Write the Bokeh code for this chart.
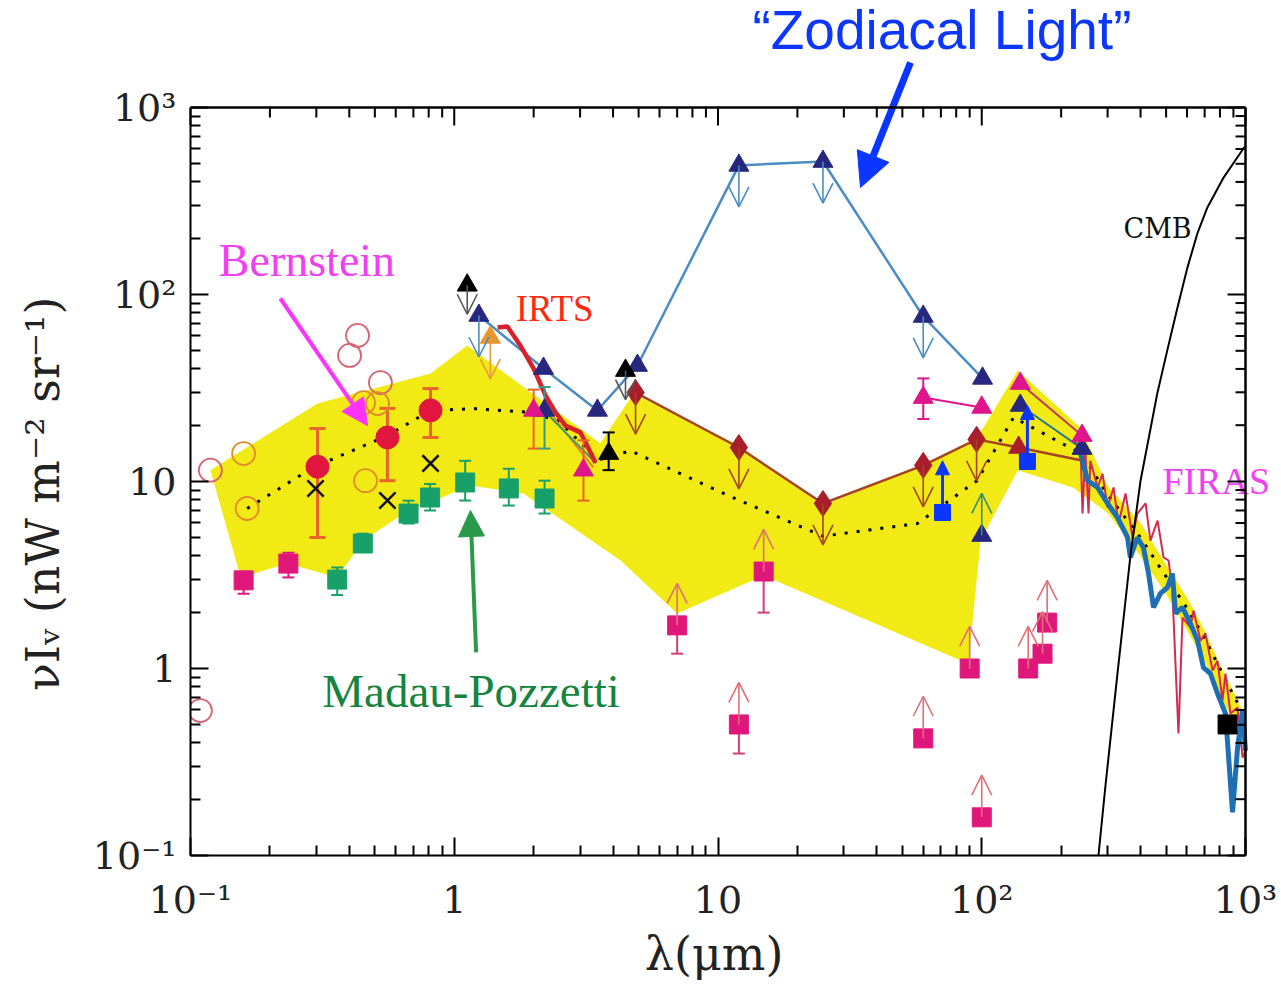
from bokeh.plotting import figure
from bokeh.models import (ColumnDataSource, Arrow, OpenHead, NormalHead, Label,
                          FixedTicker, Range1d)
from bokeh.embed import file_html
from bokeh.resources import INLINE

# ---------------- data (wavelength in micron, nu I_nu in nW m^-2 sr^-1) ----------------
# allowed range of the background (shaded band)
band_up_wl = [0.119, 0.303, 0.813, 1.12, 3.58, 4.78, 12, 25, 60, 95, 137, 237, 300, 400, 500, 600, 700, 800, 900, 1000]
band_up_val = [11.5, 26.1, 37.8, 53.4, 16.0, 29.5, 15.6, 7.44, 12.2, 16.6, 39.2, 19.4, 9.5, 6.0, 3.6, 2.4, 1.6, 1.05, 0.75, 0.55]
band_lo_wl = [1000, 900, 800, 700, 600, 500, 400, 300, 222, 137, 99, 89, 14.9, 7.0, 4.27, 1.83, 1.15, 0.643, 0.453, 0.36, 0.233, 0.155]
band_lo_val = [0.38, 0.52, 0.72, 1.1, 1.6, 2.5, 4.0, 6.8, 9.29, 11.5, 4.83, 1.06, 3.14, 1.97, 3.78, 8.63, 9.52, 6.74, 4.83, 3.07, 3.64, 3.07]

# model curve (dotted)
model_wl = [0.164, 0.292, 0.558, 0.813, 1.2, 1.95, 2.5, 3.5, 4.66, 11.4, 25, 57, 96, 132, 240, 300, 400, 500, 600, 700, 800, 900, 1000]
model_val = [7.17, 11.9, 17.6, 24.0, 24.5, 23.4, 21, 13, 14.6, 8.2, 5.1, 5.96, 10.1, 22, 14, 8.5, 5.0, 3.1, 2.1, 1.45, 1.0, 0.72, 0.55]

# open circles
oc_pink_wl = [0.109, 0.119, 0.401, 0.430, 0.525]
oc_pink_val = [0.596, 11.5, 47.2, 60.4, 33.8]
oc_orange_wl = [0.159, 0.164, 0.453, 0.461, 0.512]
oc_orange_val = [14.1, 7.17, 26.4, 10.1, 26.1]

# Bernstein points
bern_wl = [0.303, 0.558, 0.813]
bern_val = [12.0, 17.2, 24.0]
bern_lo = [5.02, 10.1, 17.2]
bern_hi = [19.2, 24.6, 31.4]

# crosses
cross_wl = [0.298, 0.558, 0.813]
cross_val = [9.18, 7.91, 12.5]

# UV galaxy counts
uv_wl = [0.159, 0.235]
uv_val = [2.96, 3.64]
uv_lo = [2.51, 3.07]
uv_hi = [3.26, 4.16]

# Madau-Pozzetti galaxy counts
mp_wl = [0.36, 0.45, 0.671, 0.81, 1.10, 1.61, 2.20]
mp_val = [2.99, 4.66, 6.74, 8.21, 9.88, 9.18, 8.11]
mp_lo = [2.47, 4.2, 5.96, 7.0, 7.91, 7.44, 6.74]
mp_hi = [3.47, 5.26, 7.9, 9.7, 12.9, 11.7, 10.1]

# IRTS spectrum
irts_wl = [1.46, 1.59, 1.78, 2.0, 2.22, 2.42, 2.64, 3.01, 3.23, 3.43]
irts_val = [66.6, 67.5, 53.4, 40.2, 28.8, 23.4, 19.9, 18.3, 15.0, 12.6]

# near-IR measurements
nir_tri_wl = [2.0, 3.09]
nir_tri_val = [24.0, 11.5]
nir_tri_lo = [15.0, 7.9]
nir_tri_hi = [31.0, 16.6]
nir_nav_wl = [2.2]
nir_nav_val = [24.0]
nir_nav_lo = [15.0]
nir_nav_hi = [32.0]
nir_orange_wl = [2.38, 3.37]
nir_orange_val = [22.0, 11.9]
nir_green_wl = [2.25, 3.45]
nir_green_val = [23.0, 12.5]

# upper limits (connected triangles)
ul_wl = [1.24, 2.18, 3.49, 4.95, 12, 25, 60, 100.7]
ul_val = [77.2, 40.2, 24.0, 41.7, 490, 514, 76.3, 35.6]
ul_arrow_wl = [1.24, 12, 25, 60]
ul_arrow_val = [77.2, 490, 514, 76.3]

# upper limits (diamonds)
dm_wl = [4.87, 12, 25, 60, 95.6]
dm_val = [29.9, 15.2, 7.63, 12.2, 16.8]
dm_line_wl = [4.87, 12, 25, 60, 95.6, 138, 237]
dm_line_val = [29.9, 15.2, 7.63, 12.2, 16.8, 15.2, 13.0]

# black triangles
bt_lim_wl = [1.12, 4.46]
bt_lim_val = [112, 39.2]
bt_wl = [3.85]
bt_val = [14.1]
bt_lo = [11.5]
bt_hi = [18.3]

# orange triangle upper limit
ot_wl = [1.37]
ot_val = [58.9]

# far-IR detections
fir_wl = [60, 100]
fir_val = [28.1, 24.9]
fir_err_wl = [60]
fir_lo = [21.6]
fir_hi = [35.6]
fir2_wl = [140, 240]
fir2_val = [33.4, 17.6]
fir_nav_wl = [140, 240]
fir_nav_val = [25.5, 15.0]
fir_red_wl = [138]
fir_red_val = [15.2]
fir_low_wl = [100]
fir_low_val = [5.14]

# lower limits (source counts)
ll_wl = [7.0, 12.0, 14.9, 60, 90, 100, 150, 170, 177]
ll_val = [1.70, 0.502, 3.30, 0.423, 1.0, 0.16, 1.0, 1.2, 1.76]
ll_err_wl = [7.0, 12.0, 14.9]
ll_err_val = [1.70, 0.502, 3.30]
ll_err_lo = [1.20, 0.351, 1.99]

# resolved fractions (blue squares, lower limits)
bs_wl = [71, 149]
bs_val = [6.83, 12.8]
bs_tip = [12.9, 25.5]

# sub-mm point
sm_wl = [855]
sm_val = [0.502]

# FIRAS spectra
firas_a_wl = [223, 237, 241, 247, 254, 258, 275, 287, 300, 316, 330, 351, 373, 389, 418, 436, 464, 489, 511,
              528, 557, 577, 618, 635, 675, 705, 750, 783, 818, 840, 877, 933, 975, 1000]
firas_a_val = [16.6, 15.2, 6.74, 14.7, 6.74, 12.9, 9.29, 11.0, 7.26, 9.29, 5.96, 8.63, 5.02, 6.74, 7.63, 4.83,
               6.18, 3.93, 3.78, 2.61, 0.449, 1.87, 1.66, 2.04, 1.41, 1.54, 0.975, 1.10, 0.675, 0.94, 0.574,
               0.618, 0.334, 0.364]
firas_b_wl = [237, 252, 275, 300, 327, 357, 366, 389, 410, 429, 448, 476, 506, 528, 543, 577, 618, 658, 693,
              736, 783, 840, 893, 933, 975, 1000]
firas_b_val = [14.1, 10.1, 9.29, 7.63, 6.42, 5.02, 3.93, 5.02, 4.44, 3.22, 2.12, 2.52, 2.71, 3.22, 1.97, 2.12,
               1.74, 1.41, 1.01, 0.94, 0.735, 0.574, 0.170, 0.378, 0.596, 0.364]

# CMB
cmb_wl = [270, 277, 294, 327, 367, 400, 463, 508, 552, 602, 657, 717, 826, 982, 1000]
cmb_val = [0.085, 0.1, 0.231, 0.94, 4.12, 10.1, 29.6, 52, 85, 139, 212, 292, 422, 604, 620]

# axis limits and tick labels
WL_MIN, WL_MAX = 0.1, 1000.0
VAL_MIN, VAL_MAX = 0.1, 1000.0
tick_vals = [0.1, 1, 10, 100, 1000]
tick_text = ["10\u207b\u00b9", "1", "10", "10\u00b2", "10\u00b3"]
minor_vals = [m * 10.0 ** e for e in range(-1, 3) for m in range(2, 10)]

# ---------------- colours ----------------
YELLOW = "#f2ea14"
MAGENTA = "#e0177a"
GREEN = "#17a06a"
CRIMSON = "#e0163f"
NAVY = "#27277f"
STEEL = "#4a8cc4"
BROWN = "#a81e2a"
BROWN_LINE = "#a5441e"
PINK_TRI = "#e0148c"
LIMIT_ARROW = "#e07078"
BRIGHT_BLUE = "#0b36ff"
SERIF = "DejaVu Serif"
NBSP = "\u00a0"

# ---------------- layout ----------------
# pixels per decade of the frame, used to leave room above and to the right of the
# data box for the annotations and to size the ticks of the closing box edges
PX_DEC_X, PX_DEC_Y = 263.75, 187.0
ROOM_RIGHT, ROOM_TOP = 36, 107

p = figure(width=1281, height=984, x_axis_type="log", y_axis_type="log", title=None,
           x_range=Range1d(WL_MIN, WL_MAX * 10 ** (ROOM_RIGHT / PX_DEC_X)),
           y_range=Range1d(VAL_MIN, VAL_MAX * 10 ** (ROOM_TOP / PX_DEC_Y)),
           output_backend="svg", toolbar_location=None,
           min_border_left=190, min_border_right=0, min_border_top=0, min_border_bottom=129)
p.grid.visible = False
p.outline_line_color = None
p.background_fill_color = "white"
p.border_fill_color = "white"

for ax in (p.xaxis[0], p.yaxis[0]):
    ax.ticker = FixedTicker(ticks=tick_vals, minor_ticks=minor_vals)
    ax.bounds = (0.1, 1000)
    ax.axis_line_width = 2
    ax.major_tick_in = 18
    ax.major_tick_out = 0
    ax.minor_tick_in = 10
    ax.minor_tick_out = 0
    ax.major_tick_line_width = 2
    ax.minor_tick_line_width = 2
    ax.major_label_overrides = dict(zip(tick_vals, tick_text))
    ax.major_label_text_font = SERIF
    ax.major_label_text_font_size = "38px"
    ax.major_label_text_color = "#222222"
    ax.axis_label_text_font = SERIF
    ax.axis_label_text_font_style = "normal"
    ax.axis_label_text_color = "#222222"

# the axis titles are centred on the box, not on the extra room to the top/right
p.xaxis[0].major_label_standoff = 22
p.yaxis[0].major_label_standoff = 14
p.xaxis[0].axis_label = "\u03bb(\u03bcm)" + NBSP * 3
p.xaxis[0].axis_label_text_font_size = "46px"
p.xaxis[0].axis_label_standoff = 2
p.yaxis[0].axis_label = "\u03bdI\u1d65 (nW m\u207b\u00b2 sr\u207b\u00b9)" + NBSP * 9
p.yaxis[0].axis_label_text_font_size = "46px"
p.yaxis[0].axis_label_standoff = 20

# closing edges of the box (top and right) with inward ticks
maj_y = 10 ** (-18 / PX_DEC_Y)
min_y = 10 ** (-10 / PX_DEC_Y)
maj_x = 10 ** (-18 / PX_DEC_X)
min_x = 10 ** (-10 / PX_DEC_X)
p.segment([WL_MIN, WL_MAX], [VAL_MAX, VAL_MIN], [WL_MAX, WL_MAX], [VAL_MAX, VAL_MAX],
          line_color="black", line_width=2.5, level="overlay")
p.segment(tick_vals, [VAL_MAX] * 5, tick_vals, [VAL_MAX * maj_y] * 5, line_color="black", line_width=2, level="overlay")
p.segment(minor_vals, [VAL_MAX] * len(minor_vals), minor_vals, [VAL_MAX * min_y] * len(minor_vals),
          line_color="black", line_width=2, level="overlay")
p.segment([WL_MAX] * 5, tick_vals, [WL_MAX * maj_x] * 5, tick_vals, line_color="black", line_width=2, level="overlay")
p.segment([WL_MAX] * len(minor_vals), minor_vals, [WL_MAX * min_x] * len(minor_vals), minor_vals,
          line_color="black", line_width=2, level="overlay")

# ---------------- shaded band and model ----------------
p.patch(band_up_wl + band_lo_wl, band_up_val + band_lo_val, fill_color=YELLOW, line_color=None)
p.line(model_wl, model_val, line_color="black", line_width=3, line_dash="3 9")

# ---------------- helpers ----------------
def errbars(wl, lo, hi, color, width=2, cap=12):
    p.segment(wl, lo, wl, hi, line_color=color, line_width=width)
    p.scatter(wl, lo, marker="dash", size=cap, line_color=color, line_width=width)
    p.scatter(wl, hi, marker="dash", size=cap, line_color=color, line_width=width)

def arrows(wl, start, end, color, width=1.6, size=20, head=None):
    src = ColumnDataSource(dict(x=wl, y0=start, y1=end))
    if head is None:
        head = OpenHead(size=size, line_color=color, line_width=width)
    p.add_layout(Arrow(end=head, x_start="x", y_start="y0", x_end="x", y_end="y1",
                       source=src, line_color=color, line_width=width))

DOWN = 0.6
UP = 1.68

# ---------------- FIRAS & CMB ----------------
p.line(firas_a_wl, firas_a_val, line_color="#d42a50", line_width=2)
p.line(firas_b_wl, firas_b_val, line_color="#1f6fb5", line_width=5)
p.line(cmb_wl, cmb_val, line_color="black", line_width=2)

# ---------------- lines ----------------
p.line(ul_wl, ul_val, line_color=STEEL, line_width=2.5)
p.line(dm_line_wl, dm_line_val, line_color=BROWN_LINE, line_width=2.5)
p.line(fir_wl, fir_val, line_color=PINK_TRI, line_width=2)
p.line(fir2_wl, fir2_val, line_color="#c03a5a", line_width=2)
p.line(fir_nav_wl, fir_nav_val, line_color="#2a7a8a", line_width=2)
p.line(nir_orange_wl, nir_orange_val, line_color="#e8802a", line_width=2)
p.line(nir_green_wl, nir_green_val, line_color="#3a9a6a", line_width=2)
p.line(irts_wl, irts_val, line_color="#d8202a", line_width=4.5)

# ---------------- error bars ----------------
errbars(bern_wl, bern_lo, bern_hi, "#e8642a", width=3, cap=16)
errbars(mp_wl, mp_lo, mp_hi, GREEN, width=2, cap=12)
errbars(uv_wl, uv_lo, uv_hi, MAGENTA, width=2, cap=12)
errbars(nir_tri_wl, nir_tri_lo, nir_tri_hi, "#e8642a", width=2, cap=12)
errbars(nir_nav_wl, nir_nav_lo, nir_nav_hi, "#3a9a8a", width=2, cap=12)
errbars(bt_wl, bt_lo, bt_hi, "black", width=2, cap=12)
errbars(fir_err_wl, fir_lo, fir_hi, PINK_TRI, width=2, cap=12)
errbars(ll_err_wl, ll_err_lo, ll_err_val, "#d0407a", width=2, cap=12)

# ---------------- limit arrows ----------------
arrows(ul_arrow_wl, ul_arrow_val, [v * DOWN for v in ul_arrow_val], STEEL)
arrows(dm_wl, dm_val, [v * DOWN for v in dm_val], BROWN_LINE)
arrows(bt_lim_wl, bt_lim_val, [v * 0.7 for v in bt_lim_val], "#555555")
arrows(ot_wl, ot_val, [v * DOWN for v in ot_val], "#e89a3a")
arrows(ll_wl, ll_val, [v * UP for v in ll_val], LIMIT_ARROW)
arrows(fir_low_wl, fir_low_val, [v * UP for v in fir_low_val], "#3a8a7a")

# ---------------- markers ----------------
p.scatter(oc_pink_wl, oc_pink_val, marker="circle", size=23, fill_color=None, line_color="#d86070", line_width=1.8)
p.scatter(oc_orange_wl, oc_orange_val, marker="circle", size=23, fill_color=None, line_color="#e08a2a", line_width=1.8)
p.scatter(cross_wl, cross_val, marker="x", size=23, line_color="#111111", line_width=2.5)
p.scatter(bern_wl, bern_val, marker="circle", size=23, fill_color=CRIMSON, line_color=CRIMSON)
p.scatter(uv_wl, uv_val, marker="square", size=19, fill_color=MAGENTA, line_color=MAGENTA)
p.scatter(mp_wl, mp_val, marker="square", size=19, fill_color=GREEN, line_color=GREEN)
p.scatter(ll_wl, ll_val, marker="square", size=19, fill_color=MAGENTA, line_color=MAGENTA)
p.scatter(dm_wl, dm_val, marker="diamond", size=26, fill_color=BROWN, line_color=BROWN)
p.scatter(ul_wl, ul_val, marker="triangle", size=20, fill_color=NAVY, line_color=NAVY)
p.scatter(fir_low_wl, fir_low_val, marker="triangle", size=20, fill_color=NAVY, line_color=NAVY)
p.scatter(fir_nav_wl, fir_nav_val, marker="triangle", size=20, fill_color=NAVY, line_color=NAVY)
p.scatter(nir_nav_wl, nir_nav_val, marker="triangle", size=20, fill_color=NAVY, line_color=NAVY)
p.scatter(fir_red_wl, fir_red_val, marker="triangle", size=20, fill_color=BROWN, line_color=BROWN)
p.scatter(fir_wl, fir_val, marker="triangle", size=20, fill_color=PINK_TRI, line_color=PINK_TRI)
p.scatter(fir2_wl, fir2_val, marker="triangle", size=20, fill_color=PINK_TRI, line_color=PINK_TRI)
p.scatter(nir_tri_wl, nir_tri_val, marker="triangle", size=20, fill_color=PINK_TRI, line_color=PINK_TRI)
p.scatter(bt_lim_wl, bt_lim_val, marker="triangle", size=20, fill_color="black", line_color="black")
p.scatter(bt_wl, bt_val, marker="triangle", size=20, fill_color="black", line_color="black")
p.scatter(ot_wl, ot_val, marker="triangle", size=20, fill_color="#e8962a", line_color="#e8962a")
p.scatter(sm_wl, sm_val, marker="square", size=19, fill_color="black", line_color="black")
p.scatter(bs_wl, bs_val, marker="square", size=16, fill_color=BRIGHT_BLUE, line_color=BRIGHT_BLUE)
arrows(bs_wl, bs_val, bs_tip, BRIGHT_BLUE, width=3,
       head=NormalHead(size=14, fill_color=BRIGHT_BLUE, line_color=BRIGHT_BLUE))

# ---------------- annotations ----------------
def label(x, y, text, color, size, font="Liberation Serif", baseline="middle", align="left", style="normal"):
    p.add_layout(Label(x=x, y=y, text=text, text_color=color, text_font=font, text_font_style=style,
                       text_font_size=size, text_baseline=baseline, text_align=align))

label(0.128, 152, "Bernstein", "#f040f0", "46px")
label(1.71, 84, "IRTS", "#ff2a10", "37px")
label(0.316, 0.762, "Madau-Pozzetti", "#16843e", "47px")
label(484, 10.1, "FIRAS", "#f040f0", "38px")
label(464, 225, "CMB", "#111111", "27px", font=SERIF, align="center")
label(13.5, 2600, "\u201cZodiacal Light\u201d", BRIGHT_BLUE, "55px", font="Liberation Sans")

p.add_layout(Arrow(end=NormalHead(size=26, fill_color="#ff33ff", line_color="#ff33ff"),
                   x_start=0.219, y_start=95.2, x_end=0.469, y_end=19.9,
                   line_color="#ff33ff", line_width=4))
p.add_layout(Arrow(end=NormalHead(size=26, fill_color="#2a9a4a", line_color="#2a9a4a"),
                   x_start=1.21, y_start=1.22, x_end=1.152, y_end=7.0,
                   line_color="#2a9a4a", line_width=4))
p.add_layout(Arrow(end=NormalHead(size=34, fill_color=BRIGHT_BLUE, line_color=BRIGHT_BLUE),
                   x_start=53.7, y_start=1741, x_end=34.7, y_end=373,
                   line_color=BRIGHT_BLUE, line_width=7))

open("out.html", "w").write(file_html(p, INLINE))
